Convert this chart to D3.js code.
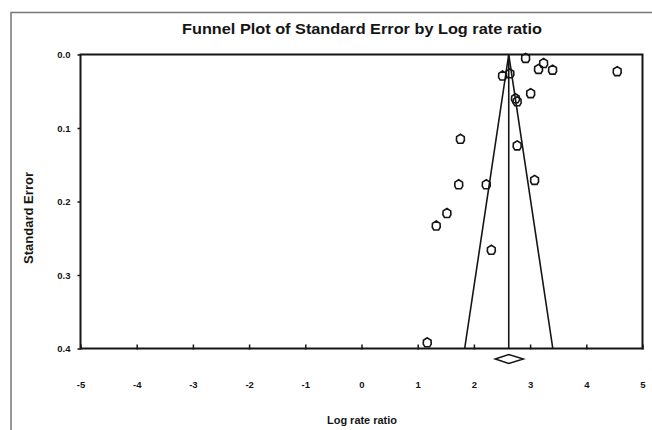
<!DOCTYPE html>
<html>
<head>
<meta charset="utf-8">
<script src="https://cdn.jsdelivr.net/npm/d3@7"></script>
<style>
  body { margin: 0; background: #fff; }
  svg { display: block; font-family: "Liberation Sans", Arial, sans-serif; font-weight: bold; }
</style>
</head>
<body>
<svg id="chart" width="652" height="430"></svg>
<script>
// study estimates: log rate ratio and its standard error
const logRateRatio = [2.92, 3.24, 3.15, 3.40, 4.55, 2.51, 2.64, 3.01, 2.74, 2.77,
  1.76, 2.77, 1.73, 2.22, 3.08, 1.52, 1.33, 2.31, 1.17];
const stdError = [0.005, 0.012, 0.020, 0.021, 0.023, 0.029, 0.026, 0.053, 0.060, 0.064,
  0.115, 0.124, 0.177, 0.177, 0.171, 0.216, 0.233, 0.266, 0.392];
const pooled = [2.62];          // combined estimate
const pooledCI = [2.38, 2.88];  // its confidence interval
const xTicks = [-5, -4, -3, -2, -1, 0, 1, 2, 3, 4, 5];
const yTicks = [0, 0.1, 0.2, 0.3, 0.4];

(function () {
  const svg = d3.select("#chart");
  const x = d3.scaleLinear().domain([-5, 5]).range([80.5, 642.5]);
  const y = d3.scaleLinear().domain([0, 0.4]).range([54.5, 348.5]);
  const ink = "#151515";

  // outer frame of the figure
  svg.append("rect")
    .attr("x", 11).attr("y", 12.5).attr("width", 700).attr("height", 500)
    .attr("fill", "none").attr("stroke", "#777").attr("stroke-width", 1.5);

  svg.append("text")
    .attr("x", 362).attr("y", 34)
    .attr("text-anchor", "middle")
    .attr("font-size", 14.5)
    .attr("textLength", 360).attr("lengthAdjust", "spacingAndGlyphs")
    .attr("fill", ink)
    .text("Funnel Plot of Standard Error by Log rate ratio");

  // axes
  const xAxis = svg.append("g")
    .attr("transform", "translate(0," + y(0.4) + ")")
    .call(d3.axisBottom(x).tickValues(xTicks).tickFormat(d => String(d))
      .tickSizeInner(-4).tickSizeOuter(0).tickPadding(33));
  xAxis.select(".domain").remove();
  xAxis.selectAll("line").attr("stroke", ink).attr("stroke-width", 1.5).attr("y2", -4).attr("y1", 1);
  xAxis.selectAll("text").attr("font-size", 9.5).attr("fill", ink)
    .attr("font-family", "Liberation Sans, Arial, sans-serif").attr("font-weight", "bold");

  const yAxis = svg.append("g")
    .attr("transform", "translate(" + x(-5) + ",0)")
    .call(d3.axisLeft(y).tickValues(yTicks).tickFormat(d3.format(".1f"))
      .tickSizeInner(3).tickSizeOuter(0).tickPadding(7));
  yAxis.select(".domain").remove();
  yAxis.selectAll("line").attr("stroke", ink).attr("stroke-width", 1.5);
  yAxis.selectAll("text").attr("font-size", 9.5).attr("fill", ink)
    .attr("font-family", "Liberation Sans, Arial, sans-serif").attr("font-weight", "bold");

  // plot frame
  svg.append("rect")
    .attr("x", x(-5)).attr("y", y(0))
    .attr("width", x(5) - x(-5)).attr("height", y(0.4) - y(0))
    .attr("fill", "none").attr("stroke", ink).attr("stroke-width", 2);

  svg.append("text")
    .attr("x", 362).attr("y", 424)
    .attr("text-anchor", "middle").attr("font-size", 10)
    .attr("textLength", 70).attr("lengthAdjust", "spacingAndGlyphs")
    .attr("fill", ink)
    .text("Log rate ratio");

  svg.append("text")
    .attr("transform", "translate(33,218) rotate(-90)")
    .attr("text-anchor", "middle").attr("font-size", 12)
    .attr("textLength", 92).attr("lengthAdjust", "spacingAndGlyphs")
    .attr("fill", ink)
    .text("Standard Error");

  // funnel
  const m = pooled[0];
  const maxSe = 0.4;
  const funnel = [[m - 1.96 * maxSe, maxSe], [m, 0], [m + 1.96 * maxSe, maxSe]];
  svg.append("path")
    .attr("d", d3.line().x(d => x(d[0])).y(d => y(d[1]))(funnel))
    .attr("fill", "none").attr("stroke", ink).attr("stroke-width", 1.6);
  svg.append("line")
    .attr("x1", x(m)).attr("x2", x(m)).attr("y1", y(0)).attr("y2", y(maxSe))
    .attr("stroke", ink).attr("stroke-width", 1.6);

  // points
  const marker = {
    draw(ctx) {
      ctx.moveTo(0, -4.8);
      ctx.lineTo(3.8, -2.4);
      ctx.lineTo(4, 1.5);
      ctx.lineTo(2.4, 4.2);
      ctx.lineTo(-2.4, 4.2);
      ctx.lineTo(-4, 1.5);
      ctx.lineTo(-3.8, -2.4);
      ctx.closePath();
    }
  };
  const pts = logRateRatio.map((v, i) => ({ x: v, se: stdError[i] }));
  svg.append("g").selectAll("path")
    .data(pts).enter().append("path")
    .attr("d", d3.symbol().type(marker))
    .attr("transform", d => "translate(" + x(d.x) + "," + y(d.se) + ")")
    .attr("fill", "none").attr("stroke", ink).attr("stroke-width", 1.6);

  // pooled diamond
  const dy = y(0.4) + 10.5;
  const diamond = [[pooledCI[0], 0], [m, -4.5], [pooledCI[1], 0], [m, 4.5]];
  svg.append("path")
    .attr("d", d3.line().x(d => x(d[0])).y(d => dy + d[1])(diamond) + "Z")
    .attr("fill", "none").attr("stroke", ink).attr("stroke-width", 1.5);
})();
</script>
</body>
</html>
